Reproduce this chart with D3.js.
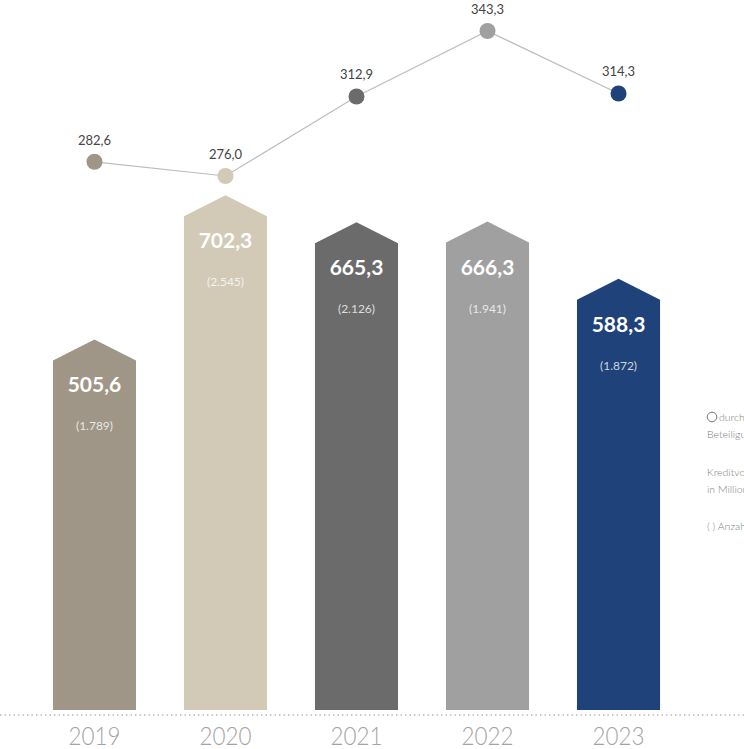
<!DOCTYPE html>
<html>
<head>
<meta charset="utf-8">
<script src="https://cdn.jsdelivr.net/npm/d3@7"></script>
<style>
  html, body { margin: 0; padding: 0; background: #fff; }
  svg { display: block; font-family: Lato, 'Open Sans', sans-serif; }
</style>
</head>
<body>
<div id="app"></div>
<script>
const years = ['2019', '2020', '2021', '2022', '2023'];
const volumes = [505.6, 702.3, 665.3, 666.3, 588.3];
const counts = ['(1.789)', '(2.545)', '(2.126)', '(1.941)', '(1.872)'];
const averages = [282.6, 276.0, 312.9, 343.3, 314.3];
const colors = ['#a09688', '#d2cab6', '#6b6b6b', '#a0a0a0', '#1f427a'];
const legendLines = [
  ['durchschnittliche Kredithöhe je', 'Beteiligung in Tausend Euro'],
  ['Kreditvolumen', 'in Millionen Euro'],
  ['( ) Anzahl Kredite']
];

const fmt = v => d3.format('.1f')(v).replace('.', ',');

const svg = d3.select('#app').append('svg')
  .attr('width', 744)
  .attr('height', 749);

const x = d3.scaleBand()
  .domain(years)
  .range([5, 708])
  .padding(0.366);

const yBar = d3.scaleLinear()
  .domain([0, 800])
  .range([710, 123.6]);

const yLine = d3.scaleLinear()
  .domain([276, 343.3])
  .range([176, 31]);

const shoulder = 21;

// bars with arrow tops
const bars = svg.append('g')
  .selectAll('g')
  .data(years)
  .enter().append('g');

bars.append('path')
  .attr('fill', (d, i) => colors[i])
  .attr('d', (d, i) => {
    const x0 = x(d), x1 = x(d) + x.bandwidth(), xm = x0 + x.bandwidth() / 2;
    const top = yBar(volumes[i]);
    return `M${x0},${yBar(0)}L${x0},${top + shoulder}L${xm},${top}L${x1},${top + shoulder}L${x1},${yBar(0)}Z`;
  });

bars.append('text')
  .attr('x', d => x(d) + x.bandwidth() / 2)
  .attr('y', (d, i) => yBar(volumes[i]) + 53)
  .attr('text-anchor', 'middle')
  .attr('fill', '#fff')
  .attr('font-size', 21)
  .attr('font-weight', 700)
  .text((d, i) => fmt(volumes[i]));

bars.append('text')
  .attr('x', d => x(d) + x.bandwidth() / 2)
  .attr('y', (d, i) => yBar(volumes[i]) + 91)
  .attr('text-anchor', 'middle')
  .attr('fill', 'rgba(255,255,255,0.78)')
  .attr('font-size', 12)
  .text((d, i) => counts[i]);

// baseline
svg.append('line')
  .attr('x1', 0)
  .attr('x2', 744)
  .attr('y1', 715)
  .attr('y2', 715)
  .attr('stroke', '#b5b5b5')
  .attr('stroke-width', 1.6)
  .attr('stroke-dasharray', '1.4,3.1');

svg.append('g')
  .selectAll('text')
  .data(years)
  .enter().append('text')
    .attr('x', d => x(d) + x.bandwidth() / 2)
    .attr('y', 745)
    .attr('text-anchor', 'middle')
    .attr('fill', '#a3a3a3')
    .attr('font-size', 25)
    .attr('font-weight', 300)
    .attr('textLength', 52)
    .attr('lengthAdjust', 'spacingAndGlyphs')
    .text(d => d);

// average line
const pts = years.map((d, i) => [x(d) + x.bandwidth() / 2, yLine(averages[i])]);

svg.append('path')
  .attr('fill', 'none')
  .attr('stroke', '#bdbdbd')
  .attr('stroke-width', 1.2)
  .attr('d', d3.line()(pts));

svg.append('g')
  .selectAll('circle')
  .data(pts)
  .enter().append('circle')
    .attr('cx', d => d[0])
    .attr('cy', d => d[1])
    .attr('r', 8)
    .attr('fill', (d, i) => colors[i]);

svg.append('g')
  .selectAll('text')
  .data(pts)
  .enter().append('text')
    .attr('x', d => d[0])
    .attr('y', d => d[1] - 17)
    .attr('text-anchor', 'middle')
    .attr('fill', '#444')
    .attr('font-size', 13)
    .text((d, i) => fmt(averages[i]));

// legend (runs off the right edge)
const legend = svg.append('g').attr('transform', 'translate(707,0)');
legend.append('circle')
  .attr('cx', 5)
  .attr('cy', 417)
  .attr('r', 4.8)
  .attr('fill', 'none')
  .attr('stroke', '#777')
  .attr('stroke-width', 1);

const legendY = [421, 476, 530];
legendLines.forEach((lines, k) => {
  lines.forEach((t, j) => {
    legend.append('text')
      .attr('x', k === 0 && j === 0 ? 12 : 0)
      .attr('y', legendY[k] + j * 17)
      .attr('fill', '#7d7d7d')
      .attr('font-size', 10.5)
      .attr('font-weight', 300)
      .text(t);
  });
});
</script>
</body>
</html>
